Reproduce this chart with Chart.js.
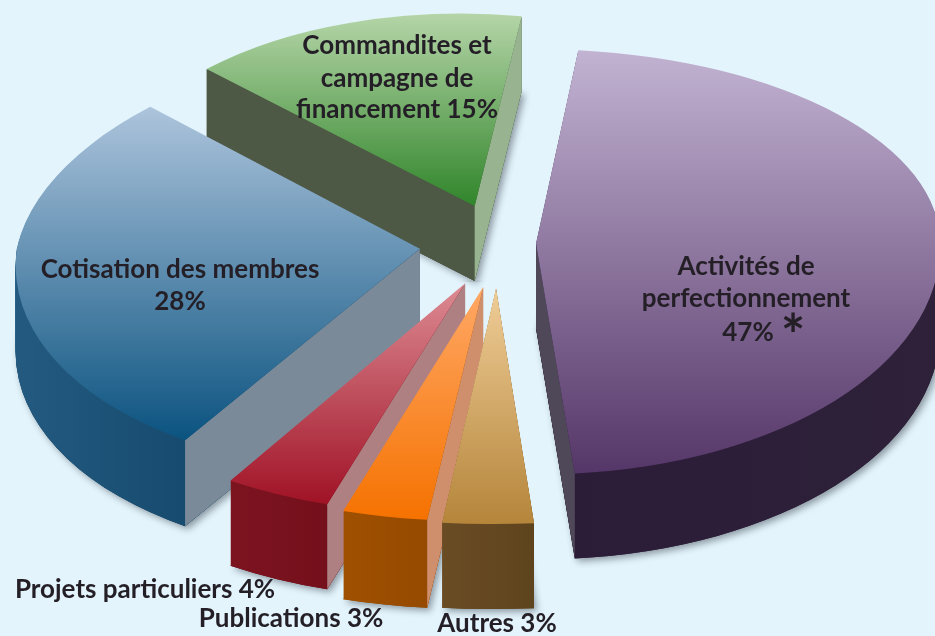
<!DOCTYPE html>
<html><head><meta charset="utf-8">
<script src="https://cdn.jsdelivr.net/npm/chart.js@4"></script>
<style>html,body{margin:0;padding:0;background:#e3f4fc;overflow:hidden}canvas{display:block}</style>
</head><body><canvas id="c" width="935" height="636"></canvas>
<script>
const categories = ["Activités de perfectionnement","Autres","Publications","Projets particuliers","Cotisation des membres","Commandites et campagne de financement"];
const values = [47,3,3,4,28,15];

// styles (per slice, same order as categories)
const explode = [39,90,90,88,78,79];
const nudgeX = [0,0,4,4,0,6];
const depth = [85,85,88,85,86,75];
const kx = [2.02,2.446,2.283,2.148,2.015,1.842];
const kyUp = [.97,1,1,1,1.06,.961];
const kyDown = [1.155,1.18,1.17,1.155,1.12,1];
const sxUp = [0,0,0,0,.224,.0427];
const sxDown = [-.025,.0143,.0417,.072,.152,0];
const skewY = [0,0,0,0,0,-.0566];
const topFrom = ["#c2b3d2","#efcd98","#ffa866","#dd8c94","#adc4dc","#b5d5a8"];
const topTo   = ["#553668","#b5853a","#f57200","#a01226","#0b5380","#30852a"];
const rimFrom = ["#2b1c38","#6a4c24","#a05000","#7c1420","#245a80","#4d5a46"];
const rimTo   = ["#2e2139","#5e441e","#8e4600","#690a14","#043758","#4d5a46"];
const wallStart = [null,null,"#cf8e6c","#ae8082","#7a8a99","#4d5845"];
const wallEnd   = ["#4f4858",null,null,null,null,"#97b38f"];
const paintOrder = [5,4,0,3,2,1];
const centerX = 497, centerY = 243, squash = .5;

function matrix(arc,i,up,dy){
  const mid=(arc.startAngle+arc.endAngle)/2;
  const ax=centerX+nudgeX[i]+explode[i]*Math.cos(mid), ay=centerY+explode[i]*squash*Math.sin(mid)+dy;
  return {ax,ay,a:kx[i],b:-skewY[i],c:-(up?sxUp[i]:sxDown[i]),d:up?kyUp[i]:kyDown[i]};
}
function toScreen(m,lx,ly){return [m.ax+m.a*lx+m.c*ly, m.ay+m.b*lx+m.d*ly];}
function extent(arc,i,dy){
  let xs=[],ys=[];
  const r=arc.outerRadius;
  for(let n=0;n<=48;n++){
    const t=arc.startAngle+(arc.endAngle-arc.startAngle)*n/48;
    const lx=r*Math.cos(t),ly=r*Math.sin(t);
    const p=toScreen(matrix(arc,i,ly<0,dy),lx,ly);xs.push(p[0]);ys.push(p[1]);
  }
  const ap=toScreen(matrix(arc,i,true,dy),0,0);xs.push(ap[0]);ys.push(ap[1]);
  return {x0:Math.min(...xs),x1:Math.max(...xs),y0:Math.min(...ys),y1:Math.max(...ys)};
}
function screenGradient(ctx,arc,m,horizontal,s0,s1,from,to){
  const p=horizontal?m.a:m.b, q=horizontal?m.c:m.d, r=horizontal?m.ax:m.ay;
  const n=p*p+q*q;
  const x0=(s0-r)*p/n,y0=(s0-r)*q/n,x1=(s1-r)*p/n,y1=(s1-r)*q/n;
  const g=ctx.createLinearGradient(arc.x+x0,arc.y+y0,arc.x+x1,arc.y+y1);
  g.addColorStop(0,from);g.addColorStop(1,to);return g;
}
function drawHalves(ctx,arc,i,dy,fill){
  const saved=arc.options;
  [true,false].forEach(up=>{
    const m=matrix(arc,i,up,dy);
    ctx.save();
    ctx.beginPath();
    if(up) ctx.rect(-50,-50,1100,m.ay+50.4); else ctx.rect(-50,m.ay-.4,1100,900);
    ctx.clip();
    ctx.transform(m.a,m.b,m.c,m.d,m.ax,m.ay);
    ctx.translate(-arc.x,-arc.y);
    arc.options=Object.assign({},saved,{backgroundColor:fill(m),borderWidth:0});
    arc.draw(ctx);
    ctx.restore();
  });
  arc.options=saved;
}
function edgeWall(ctx,arc,i,angle,color){
  if(!color) return;
  const r=arc.outerRadius, lx=r*Math.cos(angle), ly=r*Math.sin(angle);
  const m=matrix(arc,i,ly<0,0);
  const p=toScreen(m,lx,ly), d=depth[i];
  ctx.fillStyle=color;
  ctx.beginPath();
  ctx.moveTo(m.ax,m.ay);ctx.lineTo(p[0],p[1]);ctx.lineTo(p[0],p[1]+d);ctx.lineTo(m.ax,m.ay+d);ctx.closePath();
  ctx.fill();
}
const pie3d={
  id:'pie3d',
  beforeDatasetDraw(chart){
    const ctx=chart.ctx, arcs=chart.getDatasetMeta(0).data;
    paintOrder.forEach(i=>{
      const arc=arcs[i], d=depth[i];
      const e=extent(arc,i,0);
      ctx.save();
      ctx.shadowColor='rgba(30,40,50,.45)';ctx.shadowBlur=7;ctx.shadowOffsetX=3;ctx.shadowOffsetY=3;
      drawHalves(ctx,arc,i,d,m=>rimTo[i]);
      ctx.restore();
      for(let dy=d;dy>=1;dy--){
        drawHalves(ctx,arc,i,dy,m=>screenGradient(ctx,arc,m,true,e.x0,e.x1,rimFrom[i],rimTo[i]));
      }
      edgeWall(ctx,arc,i,arc.startAngle,wallStart[i]);
      edgeWall(ctx,arc,i,arc.endAngle,wallEnd[i]);
      drawHalves(ctx,arc,i,0,m=>screenGradient(ctx,arc,m,false,e.y0,e.y1,topFrom[i],topTo[i]));
    });
    return false;
  },
  afterDraw(chart){
    const ctx=chart.ctx;
    ctx.save();
    ctx.fillStyle='#241f26';
    ctx.textBaseline='middle';
    ctx.textAlign='center';
    ctx.font='700 26px Lato';
    const pct=i=>values[i]+'%';
    const put=(t,x,y)=>ctx.fillText(t,x,y);
    put('Commandites et',397,46);put('campagne de',397,79);put('financement '+pct(5),397,110);
    put('Cotisation des membres',180,270);put(pct(4),180,302);
    put('Activités de',746,267);put('perfectionnement',746,299);put(pct(0),748,333);
    ctx.font='700 58px Lato';put('*',793,337);
    ctx.font='700 26px Lato';
    put(categories[3]+' '+pct(3),145,590);
    put(categories[2]+' '+pct(2),291,619);
    put(categories[1]+' '+pct(1),497,624);
    ctx.restore();
  }
};
new Chart(document.getElementById('c'),{
  type:'pie',
  data:{labels:categories,datasets:[{data:values,radius:200,backgroundColor:topTo,borderWidth:0}]},
  options:{responsive:false,animation:false,rotation:6,radius:200,
    plugins:{legend:{display:false},tooltip:{enabled:false}},layout:{padding:0}},
  plugins:[pie3d]
});
</script></body></html>
